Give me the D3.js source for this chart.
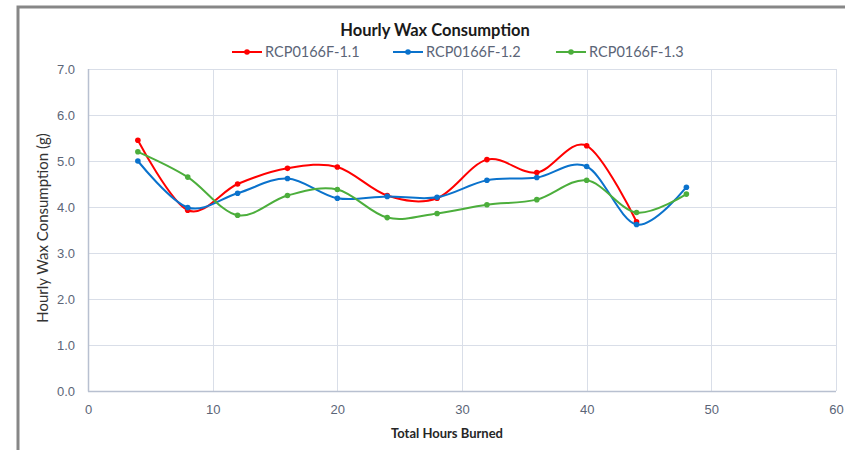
<!DOCTYPE html>
<head>
<meta charset="utf-8">
<script src="https://d3js.org/d3.v7.min.js"></script>
<style>
body, html { margin: 0; padding: 0; background: #fff; }
svg { display: block; font-family: Lato, "Open Sans", sans-serif; }
.grid line { stroke: #d9dee8; stroke-width: 1; }
.tick text { fill: #5b6577; font-size: 13px; }
.line { fill: none; stroke-width: 2px; }
</style>
</head>
<body>
<div id="chart"></div>
<script>
// data
var hours = [4, 8, 12, 16, 20, 24, 28, 32, 36, 40, 44, 48];
var rcp11 = [5.45, 3.93, 4.50, 4.84, 4.87, 4.25, 4.19, 5.03, 4.75, 5.33, 3.68];
var rcp12 = [5.00, 3.99, 4.30, 4.62, 4.19, 4.23, 4.21, 4.58, 4.64, 4.88, 3.62, 4.43];
var rcp13 = [5.20, 4.65, 3.82, 4.25, 4.38, 3.77, 3.86, 4.05, 4.16, 4.58, 3.88, 4.28];
var seriesNames = ["RCP0166F-1.1", "RCP0166F-1.2", "RCP0166F-1.3"];
var colors = ["#ff0000", "#0a72cc", "#4cae3c"];
var xTicks = [0, 10, 20, 30, 40, 50, 60];
var yTicks = [0, 1, 2, 3, 4, 5, 6, 7];

var W = 845, H = 450;
var margin = {top: 69, right: 9, bottom: 59, left: 88};
var width = W - margin.left - margin.right,
    height = H - margin.top - margin.bottom;

var svg = d3.select("#chart").append("svg")
    .attr("width", W).attr("height", H);

// outer frame (only top and left visible)
svg.append("path")
    .attr("d", "M18,450 L18,7 L845,7")
    .attr("fill", "none").attr("stroke", "#878787").attr("stroke-width", 3);

var g = svg.append("g")
    .attr("transform", "translate(" + margin.left + "," + margin.top + ")");

var x = d3.scaleLinear().domain([0, 60]).range([0, width]);
var y = d3.scaleLinear().domain([0, 7]).range([height, 0]);

// grid
var grid = g.append("g").attr("class", "grid");
grid.selectAll(".gy").data(yTicks).enter().append("line")
    .attr("x1", 0).attr("x2", width)
    .attr("y1", function(d) { return Math.round(y(d)) + 0.5; })
    .attr("y2", function(d) { return Math.round(y(d)) + 0.5; });
grid.selectAll(".gx").data(xTicks).enter().append("line")
    .attr("y1", 0).attr("y2", height)
    .attr("x1", function(d) { return Math.round(x(d)) + 0.5; })
    .attr("x2", function(d) { return Math.round(x(d)) + 0.5; });

// axis lines
g.append("line").attr("x1", 0.5).attr("x2", 0.5).attr("y1", 0).attr("y2", height + 0.5)
    .attr("stroke", "#b8c0d0").attr("stroke-width", 1.5);
g.append("line").attr("x1", 0).attr("x2", width).attr("y1", height + 0.5).attr("y2", height + 0.5)
    .attr("stroke", "#b8c0d0").attr("stroke-width", 1.5);

// Y axis labels
g.append("g")
    .call(d3.axisLeft(y).tickValues(yTicks).tickFormat(d3.format(".1f")).tickSize(0).tickPadding(13))
    .call(function(a) { a.select(".domain").remove(); })
    .selectAll("text").attr("dy", "0.35em");

// X axis labels
g.append("g")
    .attr("transform", "translate(0," + height + ")")
    .call(d3.axisBottom(x).tickValues(xTicks).tickSize(0).tickPadding(14))
    .call(function(a) { a.select(".domain").remove(); });

// lines
var allSeries = [rcp11, rcp12, rcp13];
var line = d3.line()
    .x(function(d, i) { return x(hours[i]); })
    .y(function(d) { return y(d); })
    .curve(d3.curveCatmullRom.alpha(0));

allSeries.forEach(function(s, k) {
    g.append("path")
        .datum(s)
        .attr("class", "line")
        .attr("stroke", colors[k])
        .attr("d", line);
    g.selectAll(".dot" + k)
        .data(s)
        .enter().append("circle")
        .attr("r", 2.8)
        .attr("cx", function(d, i) { return x(hours[i]); })
        .attr("cy", function(d) { return y(d); })
        .attr("fill", colors[k]);
});

// title
svg.append("text")
    .attr("x", 435).attr("y", 36)
    .attr("text-anchor", "middle")
    .style("font-size", "16.5px").style("font-weight", "bold").style("fill", "#1a1a1a")
    .text("Hourly Wax Consumption");

// legend
var legX = [232, 393, 556];
seriesNames.forEach(function(n, k) {
    var lg = svg.append("g").attr("transform", "translate(" + legX[k] + ",52)");
    lg.append("line").attr("x1", 0).attr("x2", 30).attr("y1", 0).attr("y2", 0)
        .attr("stroke", colors[k]).attr("stroke-width", 2);
    lg.append("circle").attr("cx", 15).attr("cy", 0).attr("r", 2.8).attr("fill", colors[k]);
    lg.append("text").attr("x", 33).attr("y", 5)
        .style("font-size", "14.5px").style("fill", "#5b6577")
        .text(n);
});

// axis titles
svg.append("text")
    .attr("transform", "translate(48," + (margin.top + height / 2 - 2) + ") rotate(-90)")
    .attr("text-anchor", "middle")
    .style("font-size", "15px").style("fill", "#333")
    .text("Hourly Wax Consumption (g)");

svg.append("text")
    .attr("x", 447).attr("y", 438)
    .attr("text-anchor", "middle")
    .style("font-size", "13px").style("font-weight", "bold").style("fill", "#262626")
    .text("Total Hours Burned");
</script>
</body>
